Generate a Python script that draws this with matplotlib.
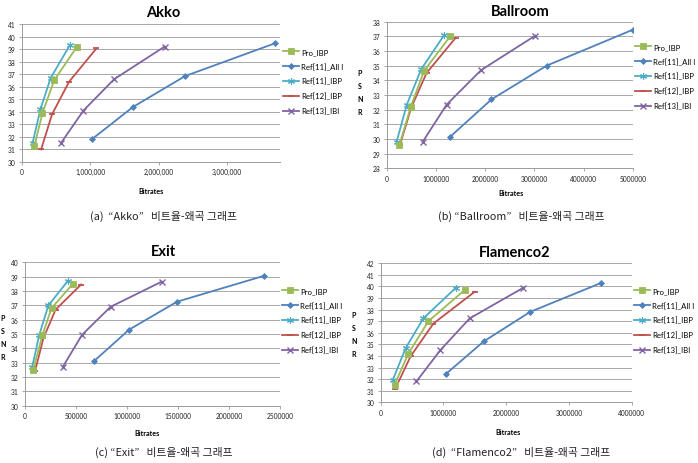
# 4개 시퀀스의 비트율-왜곡(PSNR) 그래프
import matplotlib
matplotlib.use("Agg")
import matplotlib.pyplot as plt
from matplotlib.ticker import FuncFormatter, MultipleLocator

plt.rcParams['font.family'] = ['Lato', 'DejaVu Sans']

W, H = 698, 464

series_names = ['Pro_IBP', 'Ref[11]_All I', 'Ref[11]_IBP', 'Ref[12]_IBP', 'Ref[13]_IBI']

# Akko (bitrate, PSNR)
akko_rate = [
    [180000, 300000, 470000, 800000],
    [1020000, 1630000, 2390000, 3700000],
    [155000, 270000, 420000, 700000],
    [280000, 440000, 690000, 1090000],
    [570000, 900000, 1350000, 2090000],
]
akko_psnr = [
    [31.25, 33.9, 36.5, 39.15],
    [31.8, 34.4, 36.85, 39.45],
    [31.5, 34.2, 36.7, 39.3],
    [31.0, 33.8, 36.4, 39.05],
    [31.5, 34.1, 36.6, 39.2],
]

# Ballroom
ball_rate = [
    [260000, 490000, 760000, 1290000],
    [1290000, 2130000, 3250000, 5000000],
    [200000, 410000, 700000, 1170000],
    [270000, 500000, 810000, 1400000],
    [730000, 1220000, 1920000, 3020000],
]
ball_psnr = [
    [29.6, 32.2, 34.65, 37.0],
    [30.15, 32.7, 35.0, 37.45],
    [29.8, 32.35, 34.75, 37.1],
    [29.6, 32.15, 34.5, 36.9],
    [29.8, 32.35, 34.7, 37.05],
]

# Exit
exit_rate = [
    [80000, 170000, 260000, 470000],
    [675000, 1020000, 1490000, 2340000],
    [70000, 140000, 230000, 420000],
    [100000, 180000, 300000, 550000],
    [370000, 560000, 840000, 1340000],
]
exit_psnr = [
    [32.5, 34.9, 36.8, 38.5],
    [33.1, 35.3, 37.25, 39.05],
    [32.7, 34.95, 37.0, 38.7],
    [32.45, 34.7, 36.7, 38.45],
    [32.7, 34.95, 36.9, 38.65],
]

# Flamenco2
flam_rate = [
    [220000, 440000, 760000, 1340000],
    [1040000, 1640000, 2380000, 3510000],
    [190000, 400000, 680000, 1200000],
    [230000, 480000, 840000, 1500000],
    [570000, 950000, 1420000, 2260000],
]
flam_psnr = [
    [31.5, 34.2, 37.0, 39.7],
    [32.45, 35.25, 37.8, 40.3],
    [31.9, 34.7, 37.25, 39.9],
    [31.15, 34.0, 36.8, 39.55],
    [31.8, 34.5, 37.25, 39.85],
]

titles = ['Akko', 'Ballroom', 'Exit', 'Flamenco2']
captions = ['(a)  \u201cAkko\u201d   비트율-왜곡 그래프',
            '(b) \u201cBallroom\u201d   비트율-왜곡 그래프',
            '(c) \u201cExit\u201d   비트율-왜곡 그래프',
            '(d)  \u201cFlamenco2\u201d   비트율-왜곡 그래프']

colors = ['#9BBB59', '#4F81BD', '#4BACC6', '#C0504D', '#8064A2']
markers = ['s', 'D', (6, 2, 0), '_', 'x']
msizes = [4.2, 3.0, 5.0, 5.0, 4.0]
mwidths = [0.6, 0.6, 0.8, 1.3, 1.0]

fig = plt.figure(figsize=(W / 100, H / 100), dpi=100)


def rect(left, right, top, bottom):
    return [left / W, 1 - bottom / H, (right - left) / W, (bottom - top) / H]


panels = [
    dict(rate=akko_rate, psnr=akko_psnr, box=rect(22, 280, 25, 163),
         xlim=(0, 3780000), xstep=1000000, ylim=(30, 41), comma=True,
         title=(163, 13), blabel=(151, 192), psnr_lbl=None,
         leg=(283, 49), cap=(164, 216)),
    dict(rate=ball_rate, psnr=ball_psnr, box=rect(386.7, 632.7, 22.7, 169.3),
         xlim=(0, 5000000), xstep=1000000, ylim=(28, 38), comma=False,
         title=(520, 12), blabel=(511, 194), psnr_lbl=(360, 93),
         leg=(635, 44), cap=(521, 216)),
    dict(rate=exit_rate, psnr=exit_psnr, box=rect(25, 280, 263.3, 406.7),
         xlim=(0, 2500000), xstep=500000, ylim=(30, 40), comma=False,
         title=(163, 252), blabel=(147, 434), psnr_lbl=(3, 338),
         leg=(282, 288), cap=(164, 452)),
    dict(rate=flam_rate, psnr=flam_psnr, box=rect(380.7, 631.7, 264.3, 403.3),
         xlim=(0, 4000000), xstep=1000000, ylim=(30, 42), comma=False,
         title=(515, 253), blabel=(508, 433), psnr_lbl=(354, 335),
         leg=(634, 288), cap=(521, 452)),
]

grid_c = '#9A9A9A'

for i, p in enumerate(panels):
    ax = fig.add_axes(p['box'])
    for k, name in enumerate(series_names):
        ax.plot(p['rate'][k], p['psnr'][k], color=colors[k], lw=1.3,
                marker=markers[k], ms=msizes[k], mew=mwidths[k],
                mec=colors[k], mfc=colors[k], label=name, zorder=3 + (k == 0))
    ax.set_xlim(*p['xlim'])
    ax.set_ylim(*p['ylim'])
    ax.xaxis.set_major_locator(MultipleLocator(p['xstep']))
    ax.yaxis.set_major_locator(MultipleLocator(1))
    if p['comma']:
        ax.xaxis.set_major_formatter(FuncFormatter(lambda v, _: f'{int(v):,}'))
    else:
        ax.xaxis.set_major_formatter(FuncFormatter(lambda v, _: f'{int(v)}'))
    ax.grid(axis='y', color=grid_c, lw=0.6)
    ax.set_axisbelow(True)
    for s in ['top', 'right']:
        ax.spines[s].set_visible(False)
    for s in ['left', 'bottom']:
        ax.spines[s].set_color(grid_c)
        ax.spines[s].set_linewidth(0.7)
    ax.tick_params(labelsize=4.8, length=2.5, width=0.6, color=grid_c,
                   pad=2, labelcolor='#222222')
    ax.set_facecolor('white')

    fig.text(p['title'][0] / W, 1 - p['title'][1] / H, titles[i],
             ha='center', va='center', fontsize=10.5, fontweight='bold')
    fig.text(p['blabel'][0] / W, 1 - p['blabel'][1] / H, 'Bitrates',
             ha='center', va='center', fontsize=5.2, fontweight='bold')
    if p['psnr_lbl'] is not None:
        fig.text(p['psnr_lbl'][0] / W, 1 - p['psnr_lbl'][1] / H, 'P\nS\nN\nR',
                 ha='center', va='center', fontsize=5, fontweight='bold',
                 linespacing=2.0)
    ax.legend(loc='upper left',
              bbox_to_anchor=(p['leg'][0] / W, 1 - p['leg'][1] / H),
              bbox_transform=fig.transFigure, frameon=False, fontsize=5.6,
              labelspacing=0.95, handlelength=2.1, handletextpad=0.25,
              borderpad=0, borderaxespad=0)
    fig.text(p['cap'][0] / W, 1 - p['cap'][1] / H, captions[i],
             ha='center', va='center', fontsize=7.8,
             family=['Noto Sans CJK KR', 'DejaVu Sans'], color='#222222')

fig.savefig('out.png', dpi=100)
